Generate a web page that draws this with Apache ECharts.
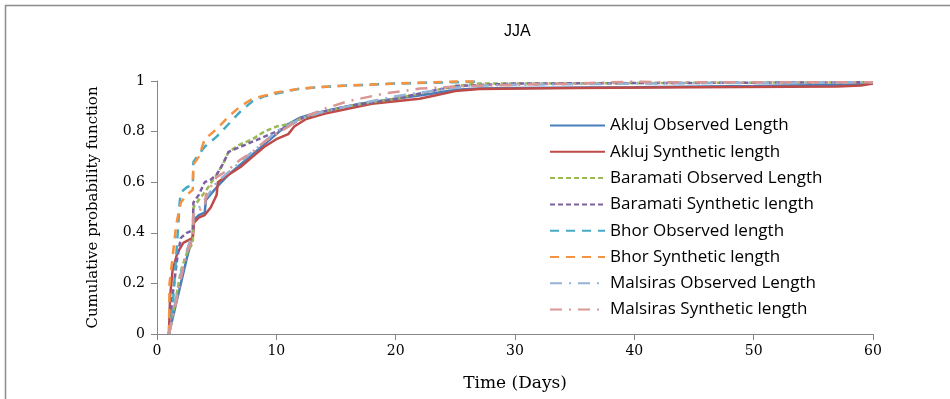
<!DOCTYPE html>
<html>
<head>
<meta charset="utf-8">
<script src="https://cdn.jsdelivr.net/npm/echarts@6/dist/echarts.min.js"></script>
<style>
  html, body { margin: 0; padding: 0; background: #fff; }
  #chart { width: 950px; height: 399px; }
</style>
</head>
<body>
<div id="chart"></div>
<script>
// cumulative probability vs time (days), pairs of [day, value]
const akljuObserved = [[1,0],[1.5,0.1],[2,0.2],[2.5,0.3],[3,0.39],[3.05,0.45],[3.5,0.47],[4,0.48],[4.1,0.53],[5,0.58],[6,0.63],[7,0.67],[8,0.71],[9,0.75],[10,0.79],[11,0.83],[12,0.855],[13,0.87],[15,0.89],[17,0.91],[20,0.93],[23,0.95],[25,0.965],[27,0.97],[30,0.972],[40,0.975],[50,0.98],[58,0.985],[60,0.99]];
const akljuSynthetic = [[1,0],[1.1,0.15],[1.3,0.25],[1.7,0.32],[2.2,0.36],[3,0.38],[3.1,0.44],[3.5,0.46],[4,0.47],[4.5,0.5],[4.8,0.53],[5,0.55],[5.1,0.6],[6,0.63],[7,0.66],[8,0.7],[9,0.74],[10,0.77],[11,0.79],[11.5,0.82],[12.5,0.85],[14,0.87],[16,0.89],[18,0.91],[20,0.92],[22,0.93],[23,0.94],[25,0.96],[27,0.968],[35,0.972],[45,0.975],[57,0.978],[59,0.982],[60,0.99]];
const baramatiObserved = [[1,0],[1.5,0.12],[2,0.25],[2.5,0.32],[3,0.36],[3.05,0.5],[3.5,0.53],[4,0.56],[5,0.63],[5.5,0.67],[6,0.72],[7,0.75],[8,0.77],[9,0.8],[10,0.82],[11,0.83],[12,0.85],[14,0.88],[16,0.9],[20,0.93],[23,0.96],[25,0.98],[27,0.99],[30,0.99],[40,0.992],[60,0.995]];
const baramatiSynthetic = [[1,0],[1.3,0.15],[1.7,0.3],[2,0.38],[2.5,0.4],[3,0.41],[3.05,0.52],[3.5,0.55],[4,0.6],[4.5,0.61],[5,0.63],[5.5,0.67],[6,0.72],[7,0.74],[8,0.76],[9,0.78],[10,0.8],[11,0.82],[12,0.85],[14,0.88],[16,0.9],[20,0.93],[23,0.96],[25,0.98],[30,0.99],[60,0.995]];
const bhorObserved = [[1,0],[1.3,0.1],[1.6,0.3],[1.9,0.52],[2,0.56],[2.5,0.58],[3,0.59],[3.05,0.68],[3.5,0.71],[4,0.74],[5,0.78],[6,0.83],[7,0.88],[8,0.92],[9,0.94],[10,0.95],[12,0.97],[15,0.98],[20,0.99],[25,0.995],[27,0.997]];
const bhorSynthetic = [[1,0],[1.05,0.2],[1.3,0.3],[1.6,0.43],[2,0.52],[2.5,0.55],[3,0.57],[3.05,0.67],[3.5,0.7],[4,0.77],[5,0.81],[6,0.86],[7,0.9],[8,0.93],[10,0.955],[12,0.97],[15,0.98],[20,0.99],[25,0.998],[27,0.998]];
const malsirasObserved = [[1,0],[1.5,0.12],[2,0.24],[2.5,0.33],[3,0.4],[3.05,0.47],[4,0.53],[5,0.6],[6,0.64],[7,0.68],[8,0.72],[9,0.76],[10,0.8],[12,0.85],[14,0.88],[17,0.91],[20,0.94],[23,0.96],[26,0.98],[30,0.985],[40,0.99],[60,0.995]];
const malsirasSynthetic = [[1,0],[1.5,0.1],[2,0.22],[2.5,0.32],[3,0.38],[3.05,0.48],[4,0.5],[4.1,0.55],[5,0.62],[6,0.65],[7,0.69],[8,0.72],[9,0.76],[10,0.79],[12,0.85],[14,0.89],[16,0.92],[19,0.95],[22,0.97],[26,0.98],[30,0.985],[35,0.99],[40,0.998],[42,0.995],[60,0.995]];

const seriesNames = [
  'Akluj Observed Length', 'Akluj Synthetic length',
  'Baramati Observed Length', 'Baramati Synthetic length',
  'Bhor Observed length', 'Bhor Synthetic length',
  'Malsiras Observed Length', 'Malsiras Synthetic length'
];
const seriesData = [akljuObserved, akljuSynthetic, baramatiObserved, baramatiSynthetic,
  bhorObserved, bhorSynthetic, malsirasObserved, malsirasSynthetic];
const seriesColors = ['#4a7ebb', '#be4b48', '#98b954', '#7d60a0', '#46aac5', '#f69240', '#95b3d7', '#d99694'];
const dashTypes = ['solid', 'solid', [5, 3], [5, 3], [9, 7], [9, 7], [12, 7, 2, 7], [12, 7, 2, 7]];

const chart = echarts.init(document.getElementById('chart'));

const axisGray = '#868686';

chart.setOption({
  animation: false,
  title: {
    text: 'JJA',
    left: 499,
    top: 19,
    textStyle: { fontFamily: 'Liberation Sans', fontWeight: 'normal', fontSize: 16, color: '#000' }
  },
  graphic: [{
    type: 'rect',
    shape: { x: 5.5, y: 5.5, width: 1000, height: 500 },
    style: { fill: 'none', stroke: '#8c8c8c', lineWidth: 1.5 },
    silent: true
  }],
  grid: { left: 157, right: 77, top: 81, bottom: 65 },
  legend: {
    orient: 'vertical',
    left: 544,
    top: 112,
    itemWidth: 55,
    itemHeight: 14,
    itemGap: 9.3,
    itemStyle: { opacity: 0 },
    textStyle: { fontFamily: 'Open Sans', fontSize: 17, color: '#000' },
    data: seriesNames
  },
  xAxis: {
    type: 'value',
    min: 0, max: 60, interval: 10,
    name: 'Time (Days)',
    nameLocation: 'middle',
    nameGap: 41,
    nameTextStyle: { fontFamily: 'DejaVu Serif', fontSize: 17, color: '#000' },
    axisLine: { lineStyle: { color: axisGray, width: 1 } },
    axisTick: { lineStyle: { color: axisGray }, length: 6 },
    axisLabel: { fontFamily: 'DejaVu Serif', fontSize: 14, color: '#000', margin: 10 },
    splitLine: { show: false }
  },
  yAxis: {
    type: 'value',
    min: 0, max: 1, interval: 0.2,
    name: 'Cumulative probability function',
    nameLocation: 'middle',
    nameGap: 56,
    nameTextStyle: { fontFamily: 'DejaVu Serif', fontSize: 15, color: '#000' },
    axisLine: { show: true, lineStyle: { color: axisGray, width: 1 } },
    axisTick: { show: true, lineStyle: { color: axisGray }, length: 6 },
    axisLabel: { fontFamily: 'DejaVu Serif', fontSize: 14, color: '#000', margin: 12 },
    splitLine: { show: false }
  },
  series: seriesNames.map((name, i) => ({
    name: name,
    type: 'line',
    data: seriesData[i],
    showSymbol: false,
    symbol: 'none',
    smooth: false,
    color: seriesColors[i],
    lineStyle: { color: seriesColors[i], width: 2.5, type: dashTypes[i] }
  }))
});
</script>
</body>
</html>
